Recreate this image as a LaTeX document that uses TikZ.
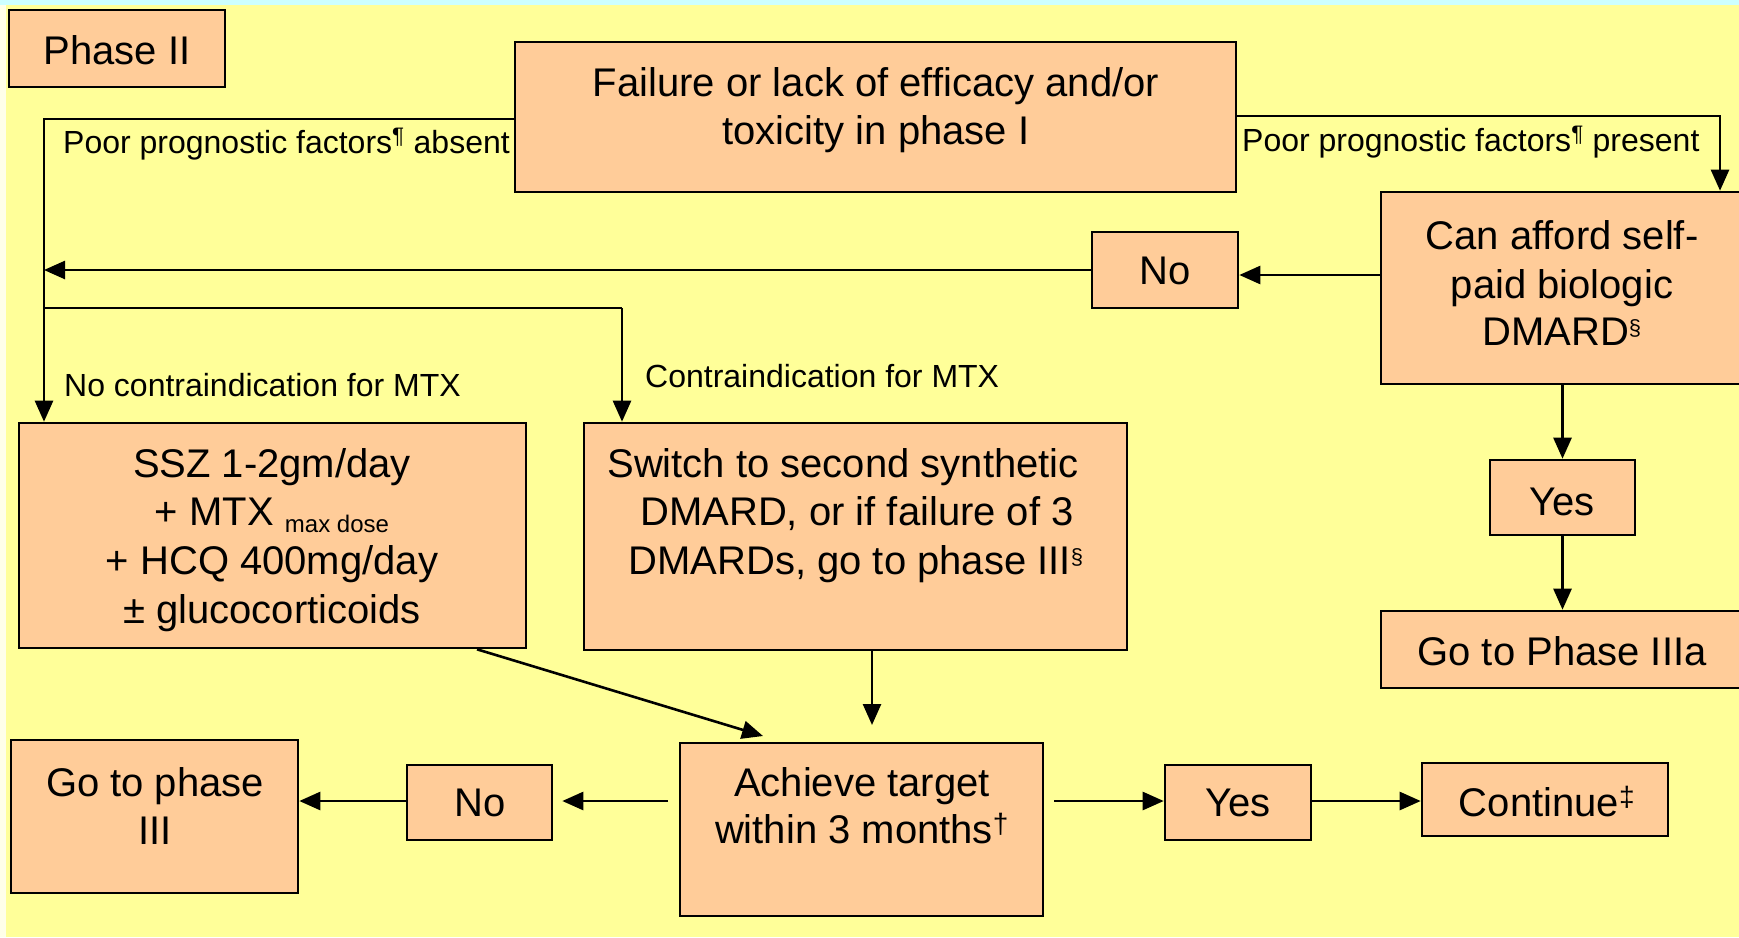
\documentclass[tikz,border=0pt]{standalone}
\usepackage{fontspec}
\setmainfont{Liberation Sans}
\usetikzlibrary{arrows.meta,calc}
\definecolor{bgyellow}{HTML}{FFFF99}
\definecolor{peach}{HTML}{FFCC99}
\definecolor{topcyan}{HTML}{CCFFFF}
\definecolor{leftpale}{HTML}{FFFFE8}
\begin{document}
\begin{tikzpicture}[x=1pt,y=-1pt,
  box/.style={draw=black, line width=2.6pt, fill=peach, inner sep=0pt, rectangle},
  big/.style={font=\fontsize{40}{48}\selectfont, inner sep=0pt, anchor=base},
  small/.style={font=\fontsize{32}{38}\selectfont, inner sep=0pt, anchor=base west},
  conn/.style={line width=2.6pt, draw=black, -{Triangle[length=21pt,width=18pt]}},
  plain/.style={line width=2.6pt, draw=black}]
\useasboundingbox (0,0) rectangle (1739,937);
% background
\fill[bgyellow] (0,0) rectangle (1739,937);
\fill[leftpale] (0,0) rectangle (6,937);
\fill[topcyan] (0,0) rectangle (1739,5);
\clip (0,0) rectangle (1739,937);

% boxes
\node[box, minimum width=216pt, minimum height=77pt] (phase) at (117,48.5) {};
\node[box, minimum width=721pt, minimum height=150pt] (fail) at (875.5,117) {};
\node[box, minimum width=370pt, minimum height=192pt] (afford) at (1566,288) {};
\node[box, minimum width=146pt, minimum height=76pt] (noU) at (1165,270) {};
\node[box, minimum width=145pt, minimum height=75pt] (yesR) at (1562.5,497.5) {};
\node[box, minimum width=370pt, minimum height=77pt] (pIIIa) at (1566,649.5) {};
\node[box, minimum width=507pt, minimum height=225pt] (ssz) at (272.5,535.5) {};
\node[box, minimum width=543pt, minimum height=227pt] (sw) at (855.5,536.5) {};
\node[box, minimum width=363pt, minimum height=173pt] (ach) at (861.5,829.5) {};
\node[box, minimum width=145pt, minimum height=75pt] (noL) at (479.5,802.5) {};
\node[box, minimum width=287pt, minimum height=153pt] (pIII) at (154.5,816.5) {};
\node[box, minimum width=146pt, minimum height=75pt] (yesL) at (1238,802.5) {};
\node[box, minimum width=246pt, minimum height=73pt] (cont) at (1545,799.5) {};

% texts
\node[big] (tphase) at (117,64) {Phase II};
\node[big] (tfail1) at (876,96) {Failure or lack of efficacy and/or};
\node[big] (tfail2) at (876,144) {toxicity in phase I};
\node[big] (taff1) at (1562,249) {Can afford self-};
\node[big] (taff2) at (1562,298) {paid biologic};
\node[big] (taff3) at (1562,345) {DMARD\textsuperscript{\fontsize{22}{24}\selectfont §}};
\node[big] (tnoU) at (1165,284) {No};
\node[big] (tyesR) at (1562,515) {Yes};
\node[big] (tpIIIa) at (1562,665) {Go to Phase IIIa};
\node[big] (tssz1) at (272,477) {SSZ 1-2gm/day};
\node[big] (tssz2) at (272,525) {+ MTX \raisebox{-7pt}{\fontsize{24}{26}\selectfont max dose}};
\node[big] (tssz3) at (272,574) {+ HCQ 400mg/day};
\node[big] (tssz4) at (272,623) {± glucocorticoids};
\node[big] (tsw1) at (843,477) {Switch to second synthetic};
\node[big] (tsw2) at (857,525) {DMARD, or if failure of 3};
\node[big] (tsw3) at (856,574) {DMARDs, go to phase III\textsuperscript{\fontsize{22}{24}\selectfont §}};
\node[big] (tach1) at (862,796) {Achieve target};
\node[big] (tach2) at (862,843) {within 3 months\textsuperscript{†}};
\node[big] (tnoL) at (480,816) {No};
\node[big] (tpIII1) at (155,796) {Go to phase};
\node[big] (tpIII2) at (155,844) {III};
\node[big] (tyesL) at (1238,816) {Yes};
\node[big] (tcont) at (1547,816) {Continue\textsuperscript{‡}};

% labels
\node[small] (labs) at (63,153) {Poor prognostic factors\textsuperscript{¶} absent};
\node[small] (lpres) at (1242,151) {Poor prognostic factors\textsuperscript{¶} present};
\node[small] (lnoci) at (64,396) {No contraindication for MTX};
\node[small] (lci) at (645,387) {Contraindication for MTX};

% junction coordinates
\coordinate (jl) at (44,119);
\coordinate (jr) at (1720,116);
\coordinate (jm) at (44,308);
\coordinate (jc) at (622,308);
\coordinate (s1) at (477,650);
\coordinate (a1) at (763,736);
\coordinate (a2) at (872,725);
\coordinate (a3) at (668,801);
\coordinate (a4) at (1054,801);

% connectors
\draw[conn] (fail.west |- jl) -- (jl) -- (jl |- ssz.north);
\draw[conn] (fail.east |- jr) -- (jr) -- (jr |- afford.north);
\draw[conn] (afford.west |- 0,275) -- (noU.east |- 0,275);
\draw[conn] (noU.west) -- (noU.west -| jl);
\draw[plain] (jm) -- (jc);
\draw[conn] (jc) -- (jc |- sw.north);
\draw[conn] (yesR.north |- afford.south) -- (yesR.north);
\draw[conn] (yesR.south) -- (yesR.south |- pIIIa.north);
\draw[conn] (s1 |- ssz.south) -- (a1);
\draw[conn] (a2 |- sw.south) -- (a2);
\draw[conn, shorten >=9pt] (a3) -- (a3 -| noL.east);
\draw[conn] (noL.west |- a3) -- (a3 -| pIII.east);
\draw[conn] (a4) -- (a4 -| yesL.west);
\draw[conn] (yesL.east |- a4) -- (a4 -| cont.west);
\end{tikzpicture}
\end{document}
